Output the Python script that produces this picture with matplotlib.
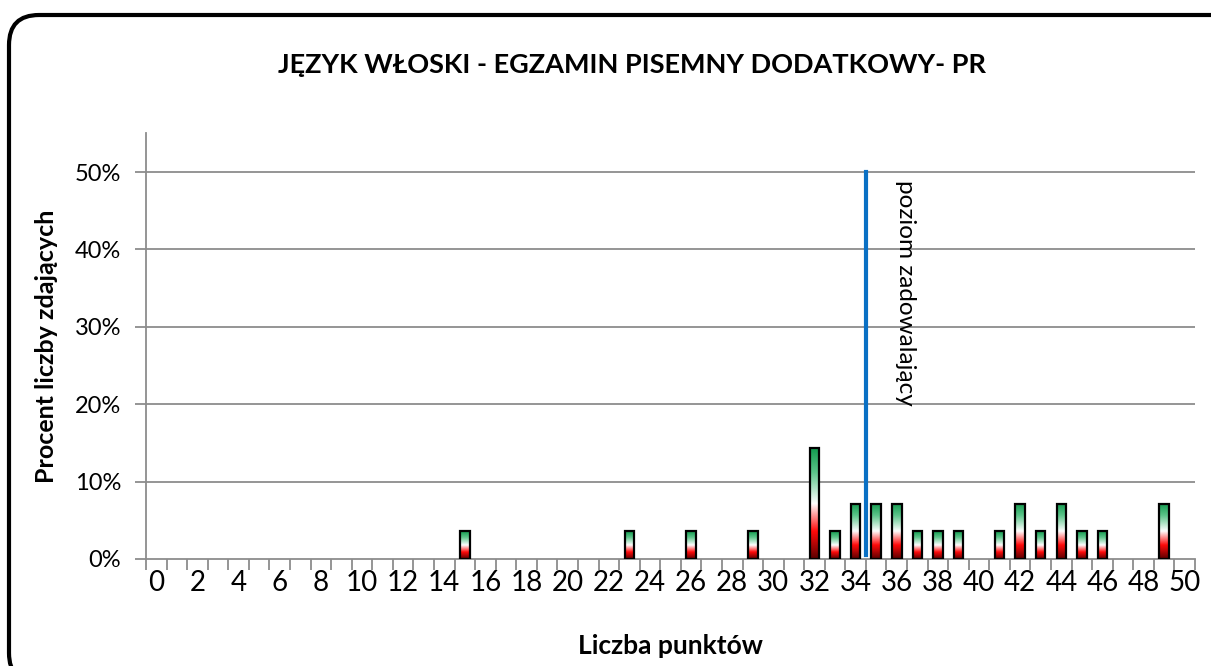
import matplotlib
matplotlib.use('Agg')
import matplotlib.pyplot as plt
import numpy as np
from matplotlib.colors import LinearSegmentedColormap
from matplotlib.patches import FancyBboxPatch
from matplotlib.ticker import FuncFormatter

plt.rcParams['font.family'] = ['Lato', 'DejaVu Sans']

# dane
punkty = [15, 23, 26, 29, 32, 33, 34, 35, 36, 37, 38, 39, 41, 42, 43, 44, 45, 46, 49]
procent = [3.57, 3.57, 3.57, 3.57, 14.29, 3.57, 7.14, 7.14, 7.14, 3.57, 3.57, 3.57,
           3.57, 7.14, 3.57, 7.14, 3.57, 3.57, 7.14]
kategorie = list(range(0, 51))
etykiety_x = [str(k) for k in kategorie[::2]]
y_ticks = [0, 10, 20, 30, 40, 50]
prog = 34.5
tytul = 'JĘZYK WŁOSKI - EGZAMIN PISEMNY DODATKOWY- PR'

W, H = 1211, 666
fig = plt.figure(figsize=(W / 100, H / 100), dpi=100)
ax = fig.add_axes([0.1206, 0.1607, 0.8662, 0.6391])

# ramka wykresu (wychodzi poza prawa i dolna krawedz)
ramka = FancyBboxPatch((9 / W, -17 / H), 1240 / W, 668 / H,
                       boxstyle='round,pad=0,rounding_size=%f' % (30 / W),
                       mutation_aspect=W / H, transform=fig.transFigure,
                       fill=False, ec='black', lw=3, clip_on=False)
fig.patches.append(ramka)

# siatka
for y in y_ticks[1:]:
    ax.axhline(y, color='#8c8c8c', lw=1.3, zorder=1)

# slupki z gradientem
cmap = LinearSegmentedColormap.from_list('pl', [(0, '#5a0000'), (0.25, '#ff0a0a'),
                                               (0.5, '#ffffff'), (0.78, '#5cc58a'),
                                               (1, '#129a4e')])
grad = np.linspace(0, 1, 256).reshape(-1, 1)
w = 0.46
for x, h in zip(punkty, procent):
    ax.imshow(grad, extent=(x - w / 2, x + w / 2, 0, h), origin='lower',
              aspect='auto', cmap=cmap, zorder=2, interpolation='bilinear')
ax.bar(punkty, procent, width=w, fill=False, edgecolor='black', lw=1.6, zorder=3)
ax.set_xlim(-0.5, 50.5)
ax.set_ylim(0, 55)

# poziom zadowalajacy
ax.plot([prog, prog], [0.5, 50], color='#0a70c4', lw=3, zorder=4)
ax.text(36.4, 49, 'poziom zadowalający', rotation=270, ha='center', va='top',
        fontsize=17.5, color='black', zorder=5)

# osie
for s in ['top', 'right']:
    ax.spines[s].set_visible(False)
for s in ['left', 'bottom']:
    ax.spines[s].set_color('#8c8c8c')
    ax.spines[s].set_linewidth(1.3)

ax.set_xticks(kategorie[::2])
ax.set_xticklabels(etykiety_x, fontsize=20)
ax.set_xticks(np.arange(-0.5, 51, 1), minor=True)
ax.tick_params(axis='x', which='major', length=0, pad=8)
ax.tick_params(axis='x', which='minor', length=8, width=1.3, color='#8c8c8c')
ax.set_yticks(y_ticks)
ax.yaxis.set_major_formatter(FuncFormatter(lambda v, p: '%d%%' % v))
ax.tick_params(axis='y', length=8, width=1.3, color='#8c8c8c', labelsize=17, pad=10)

ax.set_xlabel('Liczba punktów', fontsize=19, fontweight='bold', labelpad=27)
ax.set_ylabel('Procent liczby zdających', fontsize=18, fontweight='bold', labelpad=12)

fig.text(0.522, 0.902, tytul, ha='center', va='center', fontsize=19.5, fontweight='bold')

fig.savefig('out.png', dpi=100)
